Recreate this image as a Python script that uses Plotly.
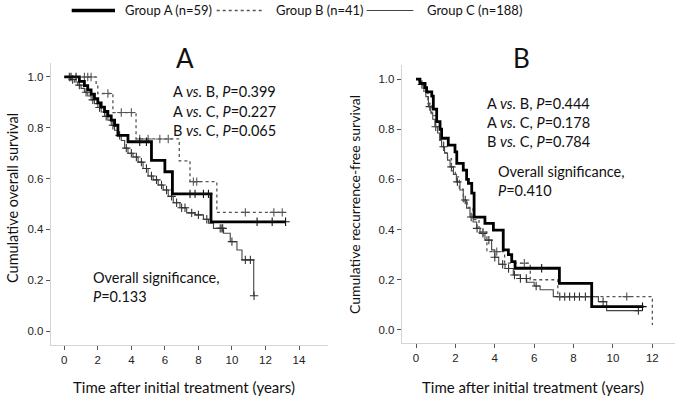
import plotly.graph_objects as go

W, H = 677, 396

# ---------------- Panel A: overall survival ----------------
os_a_t = [0, 0.9, 1.2, 1.4, 1.6, 1.8, 2.0, 2.2, 2.4, 2.6, 2.8, 3.0, 3.2, 3.8, 5.2, 6.0, 6.45, 8.75]
os_a_s = [1.0, 0.983, 0.966, 0.949, 0.932, 0.915, 0.898, 0.881, 0.864, 0.847, 0.83, 0.81, 0.77, 0.745, 0.672, 0.627, 0.54, 0.43]
os_a_end = 13.2
os_a_cens = [0.4, 0.7, 4.5, 4.9, 7.5, 7.8, 8.3, 8.6, 11.5, 12.4, 13.2]

os_b_t = [0, 1.9, 2.0, 2.9, 4.28, 6.86, 7.5, 9.1]
os_b_s = [1.0, 0.97, 0.935, 0.86, 0.756, 0.67, 0.588, 0.467]
os_b_end = 13.1
os_b_cens = [1.2, 1.4, 1.6, 2.6, 3.4, 4.0, 4.5, 5.0, 5.7, 6.2, 7.7, 7.9, 10.8, 12.5, 13.0]

os_c_t = [0, 0.4, 0.6, 0.8, 1.0, 1.2, 1.4, 1.6, 1.8, 2.0, 2.2, 2.4, 2.6, 2.8, 3.0, 3.2, 3.4, 3.6, 3.8,
          4.1, 4.4, 4.7, 5.0, 5.3, 5.6, 5.9, 6.2, 6.5, 6.9, 7.3, 7.8, 8.3, 8.6, 8.9, 9.5, 9.9, 10.3, 10.6, 11.3]
os_c_s = [1.0, 0.99, 0.98, 0.968, 0.955, 0.94, 0.925, 0.91, 0.895, 0.88, 0.862, 0.845, 0.83, 0.81, 0.79,
          0.77, 0.75, 0.72, 0.70, 0.685, 0.665, 0.64, 0.61, 0.595, 0.575, 0.555, 0.53, 0.505, 0.485, 0.465,
          0.457, 0.44, 0.424, 0.404, 0.385, 0.352, 0.319, 0.28, 0.139]
os_c_end = 11.32
os_c_cens = [0.3, 0.5, 0.9, 1.3, 1.7, 2.1, 2.5, 2.9, 3.3, 3.7, 4.0, 4.3, 4.6, 4.9, 5.2, 5.5, 5.8, 6.1,
             6.4, 6.7, 7.0, 7.2, 7.6, 8.0, 8.5, 9.3, 9.4, 9.45, 10.0, 10.8, 11.1, 11.32]

# ---------------- Panel B: recurrence-free survival ----------------
rfs_a_t = [0, 0.2, 0.46, 0.54, 0.8, 0.88, 1.05, 1.22, 1.3, 1.64, 1.98, 2.07, 2.4, 2.57, 2.66, 2.83,
           2.95, 3.5, 3.93, 4.43, 4.69, 4.86, 5.03, 7.28, 8.92]
rfs_a_s = [1.0, 0.983, 0.966, 0.949, 0.932, 0.88, 0.83, 0.80, 0.764, 0.737, 0.71, 0.664, 0.637, 0.60,
           0.584, 0.545, 0.45, 0.425, 0.398, 0.319, 0.30, 0.272, 0.246, 0.186, 0.093]
rfs_a_end = 11.55
rfs_a_cens = [6.38, 11.5]

rfs_b_t = [0, 0.2, 0.4, 0.6, 0.8, 1.0, 1.2, 1.4, 1.6, 1.8, 2.0, 2.2, 2.4, 2.6, 2.9, 3.2, 3.6, 4.5, 5.8, 7.2, 12.0]
rfs_b_s = [1.0, 0.976, 0.951, 0.902, 0.854, 0.805, 0.756, 0.707, 0.683, 0.634, 0.61, 0.561, 0.512,
           0.488, 0.44, 0.39, 0.312, 0.266, 0.2, 0.133, 0.02]
rfs_b_end = 12.0
rfs_b_cens = [3.4, 4.1, 5.5, 10.7]

rfs_c_t = [0, 0.15, 0.25, 0.37, 0.5, 0.63, 0.75, 0.85, 0.96, 1.1, 1.2, 1.3, 1.45, 1.6, 1.73, 1.9, 2.05,
           2.23, 2.4, 2.57, 2.74, 2.9, 3.08, 3.25, 3.5, 3.84, 4.0, 4.2, 4.52, 4.94, 5.3, 5.62, 6.0, 6.3,
           6.97, 9.26, 9.68]
rfs_c_s = [1.0, 0.99, 0.978, 0.963, 0.93, 0.89, 0.865, 0.84, 0.81, 0.785, 0.757, 0.73, 0.704, 0.677,
           0.65, 0.62, 0.59, 0.558, 0.518, 0.485, 0.45, 0.43, 0.405, 0.385, 0.358, 0.319, 0.29, 0.262,
           0.245, 0.219, 0.205, 0.19, 0.175, 0.16, 0.133, 0.113, 0.077]
rfs_c_end = 11.29
rfs_c_cens = [0.3, 0.7, 1.0, 1.4, 1.8, 2.1, 2.5, 2.8, 3.1, 3.4, 3.7, 4.0, 4.4, 4.7, 5.0, 5.3, 5.6,
              6.1, 7.3, 7.55, 7.8, 8.05, 8.3, 8.6, 9.5, 11.29]

x_ticks_a = [0, 2, 4, 6, 8, 10, 12, 14]
x_ticks_b = [0, 2, 4, 6, 8, 10, 12]
y_ticks = [0.0, 0.2, 0.4, 0.6, 0.8, 1.0]

legend_labels = ["Group A (n=59)", "Group B (n=41)", "Group C (n=188)"]
pvals_a = ["A <i>vs.</i> B, <i>P</i>=0.399", "A <i>vs.</i> C, <i>P</i>=0.227", "B <i>vs.</i> C, <i>P</i>=0.065"]
pvals_b = ["A <i>vs.</i> B, <i>P</i>=0.444", "A <i>vs.</i> C, <i>P</i>=0.178", "B <i>vs.</i> C, <i>P</i>=0.784"]
overall_a = "<i>P</i>=0.133"
overall_b = "<i>P</i>=0.410"

STY = {
    "A": dict(color="#000000", width=2.8, dash="solid"),
    "B": dict(color="#555555", width=1.3, dash="dot"),
    "C": dict(color="#444444", width=1.1, dash="solid"),
}
MCOL = {"A": "#111111", "B": "#555555", "C": "#333333"}


def step_val(ts, ss, t):
    v = ss[0]
    for ti, si in zip(ts, ss):
        if ti <= t:
            v = si
    return v


fig = go.Figure()


def add_curve(ts, ss, end, cens, grp, xa, ya):
    fig.add_trace(go.Scatter(x=list(ts) + [end], y=list(ss) + [ss[-1]], mode="lines",
                             line=dict(shape="hv", **STY[grp]), xaxis=xa, yaxis=ya,
                             hoverinfo="skip", showlegend=False))
    fig.add_trace(go.Scatter(x=cens, y=[step_val(ts, ss, c) for c in cens], mode="markers",
                             marker=dict(symbol="cross-thin", size=6,
                                         line=dict(width=1.1, color=MCOL[grp])),
                             xaxis=xa, yaxis=ya, hoverinfo="skip", showlegend=False))


add_curve(os_c_t, os_c_s, os_c_end, os_c_cens, "C", "x", "y")
add_curve(os_b_t, os_b_s, os_b_end, os_b_cens, "B", "x", "y")
add_curve(os_a_t, os_a_s, os_a_end, os_a_cens, "A", "x", "y")
add_curve(rfs_c_t, rfs_c_s, rfs_c_end, rfs_c_cens, "C", "x2", "y2")
add_curve(rfs_b_t, rfs_b_s, rfs_b_end, rfs_b_cens, "B", "x2", "y2")
add_curve(rfs_a_t, rfs_a_s, rfs_a_end, rfs_a_cens, "A", "x2", "y2")


def px(x):
    return x / W


def py(y):
    return 1 - y / H


TICKF = dict(family="Liberation Sans, Arial", size=11.5, color="#222222")
TXTF = "Lato, Open Sans, sans-serif"
common = dict(showgrid=False, zeroline=False, showline=True, linecolor="#d4d4d4", linewidth=1,
              ticks="outside", tickcolor="#555555", ticklen=4, tickwidth=1, tickfont=TICKF)

fig.update_layout(
    width=W, height=H, margin=dict(l=0, r=0, t=0, b=0),
    paper_bgcolor="white", plot_bgcolor="white", showlegend=False,
    xaxis=dict(domain=[px(50.7), px(328)], range=[-0.81, 15.73], tickvals=x_ticks_a,
               anchor="y", **common),
    yaxis=dict(domain=[py(345), py(63)], range=[-0.055, 1.055], tickvals=y_ticks,
               tickformat=".1f", anchor="x", **common),
    xaxis2=dict(domain=[px(401.7), px(675)], range=[-0.726, 13.15], tickvals=x_ticks_b,
                anchor="y2", **common),
    yaxis2=dict(domain=[py(343), py(65)], range=[-0.052, 1.056], tickvals=y_ticks,
                tickformat=".1f", anchor="x2", **common),
)

ann = []


def text(x, y, s, size=14.5, anchor="left", angle=0):
    ann.append(dict(x=px(x), y=py(y), xref="paper", yref="paper", text=s, showarrow=False,
                    xanchor=anchor, yanchor="middle", textangle=angle, borderpad=0,
                    font=dict(family=TXTF, size=size, color="#111111")))


# panel letters
text(185, 58, "A", size=26, anchor="center")
text(521.7, 58, "B", size=26, anchor="center")
# p-values
for i, s in enumerate(pvals_a):
    text(172, 92 + 19.3 * i, s)
for i, s in enumerate(pvals_b):
    text(486, 103.3 + 19 * i, s)
text(92, 277.7, "Overall significance,")
text(92, 296.7, overall_a)
text(497, 171.7, "Overall significance,")
text(497, 190, overall_b)
# axis titles
text(183.8, 387, "Time after initial treatment (years)", size=15, anchor="center")
text(532.5, 387, "Time after initial treatment (years)", size=15, anchor="center")
text(12, 198, "Cumulative overall survival", anchor="center", angle=-90)
text(355, 205, "Cumulative recurrence-free survival", size=14, anchor="center", angle=-90)

# legend
leg = [(71.7, 115, 123.5, "A"), (216.7, 263.3, 274.5, "B"), (366.7, 413.3, 426, "C")]
shapes = []
for (x0, x1, xt, g), lab in zip(leg, legend_labels):
    st = STY[g]
    shapes.append(dict(type="line", xref="paper", yref="paper", x0=px(x0), x1=px(x1),
                       y0=py(10.5), y1=py(10.5),
                       line=dict(color=st["color"], width=st["width"] + (0.6 if g == "A" else 0),
                                 dash=st["dash"])))
    text(xt, 10.5, lab, size=13)

fig.update_layout(annotations=ann, shapes=shapes)
fig.write_html("out.html", config={"displayModeBar": False},
               post_script="document.body.style.margin='0';document.body.style.overflow='hidden';")
